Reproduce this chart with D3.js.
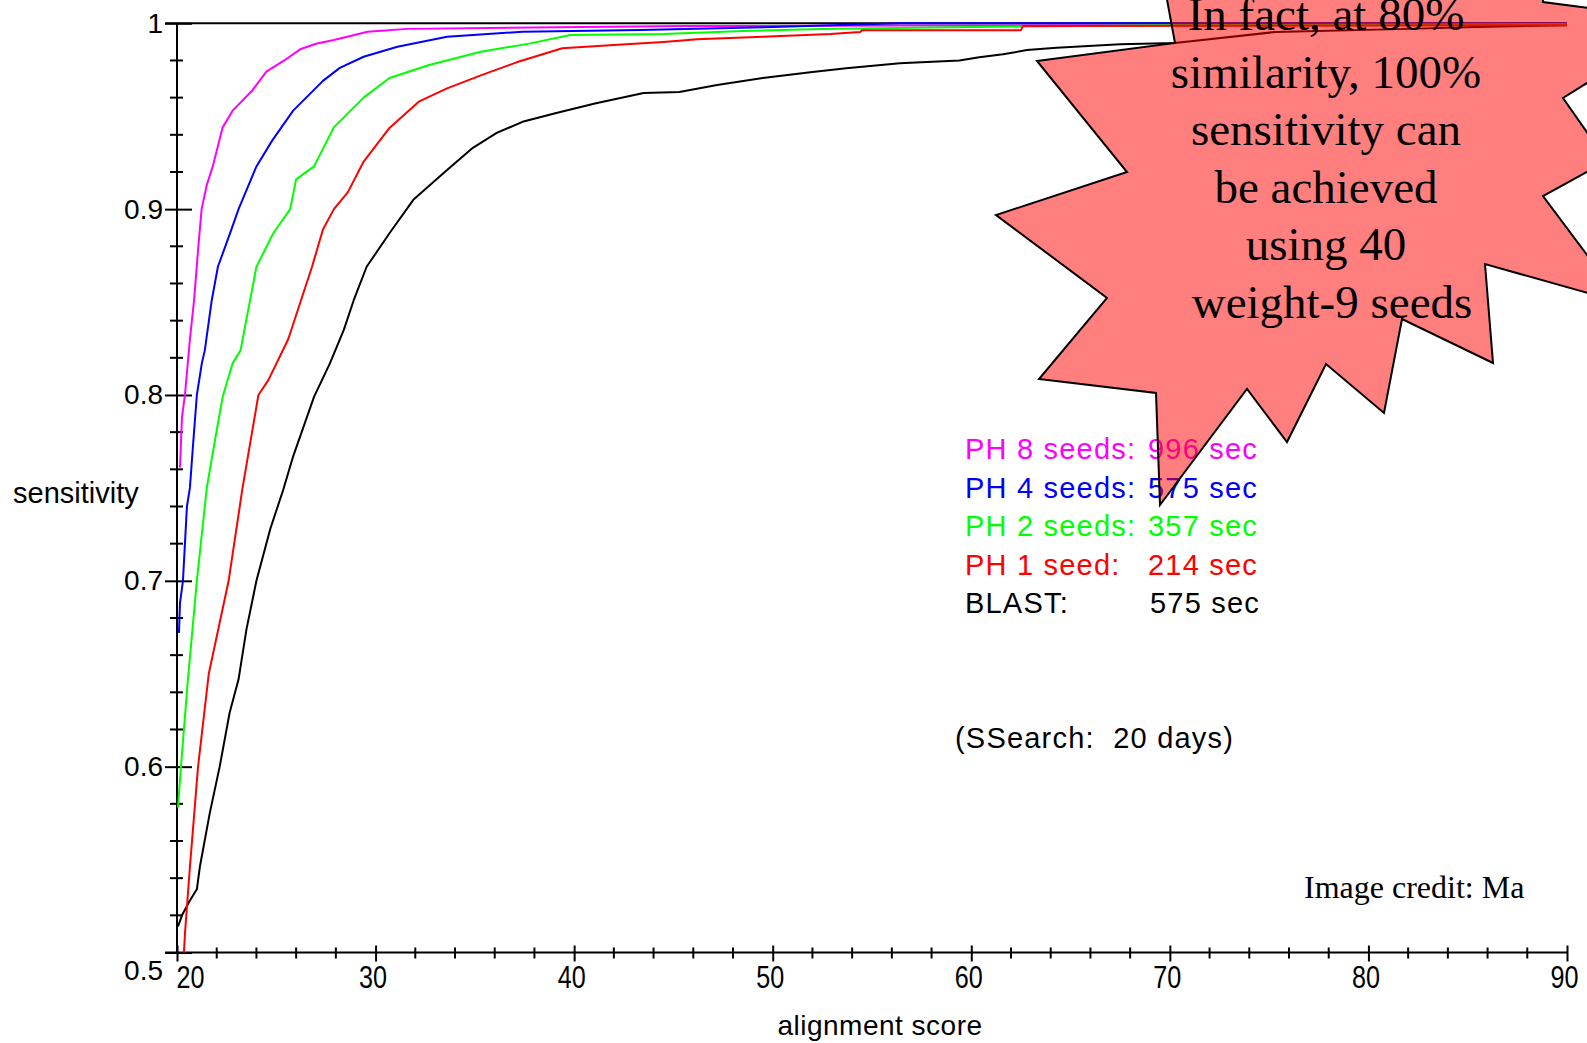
<!DOCTYPE html>
<html>
<head>
<meta charset="utf-8">
<script src="https://cdn.jsdelivr.net/npm/d3@7"></script>
<style>
body { margin: 0; background: #fff; }
svg { display: block; }
text { font-family: "Liberation Sans", Arial, sans-serif; }
.serif { font-family: "Liberation Serif", "Times New Roman", serif; }
</style>
</head>
<body>
<div class="chart"></div>
<script>
// page / plot box
var config = {};
config.svg = { width: 1587, height: 1043 };
config.plot = { left: 177, right: 1567, top: 23.3, bottom: 952.5 };

// axis ticks
var xTicks = [20, 30, 40, 50, 60, 70, 80, 90];
var yTicks = [0.5, 0.6, 0.7, 0.8, 0.9, 1];
var yTickLabels = ["0.5", "0.6", "0.7", "0.8", "0.9", "1"];

// series (alignment score -> sensitivity)
var ph8X = [20.15, 20.25, 20.4, 20.65, 20.86, 21.06, 21.24, 21.5, 21.8, 22.3, 22.8, 23.8, 24.5, 25.4, 26.2, 27.0, 27.9, 29.6, 31.6, 45.5, 56.4, 90];
var ph8Y = [0.761, 0.788, 0.80, 0.830, 0.851, 0.878, 0.90, 0.913, 0.923, 0.944, 0.953, 0.964, 0.974, 0.980, 0.986, 0.989, 0.991, 0.9955, 0.997, 0.9985, 0.9988, 0.9992];

var ph4X = [20.1, 20.15, 20.3, 20.4, 20.5, 20.65, 20.8, 21.0, 21.25, 21.4, 21.75, 22.06, 22.67, 23.1, 24.0, 24.8, 25.85, 27.35, 28.2, 29.4, 31.1, 33.6, 37.4, 43.3, 50, 56.4, 90];
var ph4Y = [0.672, 0.688, 0.70, 0.72, 0.74, 0.75, 0.772, 0.80, 0.817, 0.824, 0.851, 0.869, 0.887, 0.90, 0.923, 0.937, 0.953, 0.969, 0.976, 0.982, 0.9874, 0.9928, 0.9955, 0.9964, 0.998, 1.0, 1.0];

var ph2X = [20.05, 20.2, 20.55, 21.0, 21.5, 22.0, 22.3, 22.8, 23.2, 24.0, 24.85, 25.7, 26.0, 26.9, 27.9, 29.4, 30.7, 32.7, 35.3, 37.8, 39.8, 44.5, 48.5, 52.4, 60, 70, 90];
var ph2Y = [0.578, 0.60, 0.647, 0.70, 0.75, 0.781, 0.799, 0.817, 0.824, 0.869, 0.887, 0.90, 0.916, 0.923, 0.944, 0.96, 0.9706, 0.9776, 0.9847, 0.9892, 0.9937, 0.9942, 0.9959, 0.9969, 0.998, 0.999, 0.9995];

var ph1X = [20.35, 20.4, 20.65, 21.06, 21.6, 22.6, 23.3, 24.1, 24.6, 25.6, 26.8, 27.35, 27.9, 28.6, 29.4, 30.7, 32.2, 33.6, 35.3, 37.1, 39.4, 42.0, 44.5, 46.2, 49.5, 52.9, 54.4, 54.5, 62.5, 62.6, 90];
var ph1Y = [0.50, 0.51, 0.546, 0.60, 0.65, 0.70, 0.75, 0.80, 0.808, 0.83, 0.869, 0.889, 0.90, 0.909, 0.9256, 0.9437, 0.958, 0.965, 0.972, 0.979, 0.9866, 0.9883, 0.990, 0.9914, 0.9928, 0.9942, 0.9953, 0.9963, 0.9963, 0.9985, 0.999];

var blastX = [20.05, 20.25, 20.65, 21.0, 21.15, 21.65, 22.15, 22.65, 23.1, 23.5, 24.0, 24.7, 25.35, 25.85, 26.9, 27.7, 28.4, 28.9, 29.55, 30.7, 31.9, 33.6, 34.9, 36.1, 37.4, 39.1, 41.1, 43.5, 45.3, 47.2, 49.5, 52.0, 53.7, 56.4, 59.4, 60.4, 61.6, 62.8, 64.3, 67.5, 70.25, 75.3, 82, 85.4, 90];
var blastY = [0.514, 0.520, 0.528, 0.534, 0.546, 0.575, 0.60, 0.629, 0.647, 0.674, 0.70, 0.728, 0.749, 0.767, 0.799, 0.817, 0.835, 0.851, 0.869, 0.887, 0.905, 0.921, 0.933, 0.941, 0.947, 0.9517, 0.957, 0.9625, 0.963, 0.9668, 0.9706, 0.9738, 0.9758, 0.9785, 0.980, 0.9817, 0.9833, 0.9856, 0.9869, 0.9887, 0.9894, 0.9953, 0.997, 0.998, 0.999];

// legend
var legendLabels = ["PH 8 seeds:", "PH 4 seeds:", "PH 2 seeds:", "PH 1 seed:", "BLAST:"];
var legendTimes = ["996 sec", "575 sec", "357 sec", "214 sec", "575 sec"];
var legendColors = ["#ff00ff", "#0000ff", "#00ff00", "#ff0000", "#000000"];

// callout
var burstLines = ["In fact, at 80%", "similarity, 100%", "sensitivity can", "be achieved", "using 40", "weight-9 seeds"];
var burstPoints = [[1156, -60], [1175, 43], [1037, 61], [1127, 172], [996, 215], [1107, 298], [1039, 379], [1156, 393],
    [1160, 505], [1247, 389], [1287, 442], [1326, 364], [1384, 413], [1402, 319], [1493, 363], [1485, 264],
    [1623, 303], [1543, 196], [1607, 161], [1563, 98], [1686, 21], [1543, 2], [1540, -60]];

var translate = (x, y) => "translate(" + x + "," + y + ")";

var series = [
    { name: "BLAST", color: "#000000", xs: blastX, ys: blastY },
    { name: "PH 8", color: "#ff00ff", xs: ph8X, ys: ph8Y },
    { name: "PH 4", color: "#0000ff", xs: ph4X, ys: ph4Y },
    { name: "PH 2", color: "#00ff00", xs: ph2X, ys: ph2Y },
    { name: "PH 1", color: "#ff0000", xs: ph1X, ys: ph1Y }
].map(s => ({ name: s.name, color: s.color, values: s.xs.map((x, i) => ({ x: x, s: s.ys[i] })) }));

var xScale = d3.scaleLinear().domain([20, 90]).range([config.plot.left, config.plot.right]);
var yScale = d3.scaleLinear().domain([0.5, 1]).range([config.plot.bottom, config.plot.top]);

var svg = d3.select(".chart")
    .append("svg")
    .attr("width", config.svg.width)
    .attr("height", config.svg.height);

// ---- axes ----
var yAxis = d3.axisLeft(yScale)
    .tickValues(yTicks)
    .tickFormat((d, i) => yTickLabels[i])
    .tickSize(12)
    .tickPadding(2);

var yG = svg.append("g")
    .attr("transform", translate(config.plot.left, 0))
    .call(yAxis)
    .attr("font-family", null)
    .attr("font-size", 28);
yG.select(".domain").remove();
yG.selectAll(".tick line").attr("x1", 15).attr("stroke", "#000").attr("stroke-width", 2);
yG.selectAll(".tick text").attr("fill", "#000")
    .attr("dy", d => d === 0.5 ? "0.95em" : "0.32em");

// minor y ticks every 0.02
var yMinor = d3.range(25, 50).filter(k => k % 5 !== 0).map(k => k / 50);
svg.append("g").selectAll("line")
    .data(yMinor)
    .enter().append("line")
    .attr("x1", config.plot.left - 7)
    .attr("x2", config.plot.left + 6)
    .attr("y1", d => yScale(d))
    .attr("y2", d => yScale(d))
    .attr("stroke", "#000")
    .attr("stroke-width", 2);

var xAxis = d3.axisBottom(xScale)
    .tickValues(xTicks)
    .tickFormat(d => d)
    .tickSize(9)
    .tickPadding(4);

var xG = svg.append("g")
    .attr("transform", translate(0, config.plot.bottom))
    .call(xAxis)
    .attr("font-family", null)
    .attr("font-size", 31);
xG.select(".domain").remove();
xG.selectAll(".tick line").attr("y1", -7).attr("stroke", "#000").attr("stroke-width", 2);
xG.selectAll(".tick text").attr("fill", "#000")
    .attr("textLength", 28)
    .attr("lengthAdjust", "spacingAndGlyphs")
    .attr("dx", d => d === 20 ? 13 : -3);

// minor x ticks every 2
var xMinor = d3.range(20, 91, 2).filter(d => d % 10 !== 0);
svg.append("g").selectAll("line")
    .data(xMinor)
    .enter().append("line")
    .attr("x1", d => xScale(d))
    .attr("x2", d => xScale(d))
    .attr("y1", config.plot.bottom - 5)
    .attr("y2", config.plot.bottom + 6)
    .attr("stroke", "#000")
    .attr("stroke-width", 2);

// axis lines (bottom, left, top at sensitivity 1)
svg.append("line")
    .attr("x1", config.plot.left - 12).attr("x2", xScale(90))
    .attr("y1", yScale(0.5)).attr("y2", yScale(0.5))
    .attr("stroke", "#000").attr("stroke-width", 2);
svg.append("line")
    .attr("x1", xScale(20)).attr("x2", xScale(20))
    .attr("y1", yScale(1)).attr("y2", yScale(0.5))
    .attr("stroke", "#000").attr("stroke-width", 2);
svg.append("line")
    .attr("x1", config.plot.left - 12).attr("x2", xScale(90))
    .attr("y1", yScale(1)).attr("y2", yScale(1))
    .attr("stroke", "#000").attr("stroke-width", 2);

// axis titles
svg.append("text")
    .text("sensitivity")
    .attr("x", 13)
    .attr("y", 503)
    .attr("font-size", 29);

svg.append("text")
    .text("alignment score")
    .attr("x", 880)
    .attr("y", 1035)
    .attr("text-anchor", "middle")
    .attr("font-size", 28)
    .attr("letter-spacing", 0.5);

// ---- curves ----
var line = d3.line()
    .x(d => xScale(d.x))
    .y(d => yScale(d.s));

svg.append("g").selectAll("path")
    .data(series)
    .enter().append("path")
    .attr("d", d => line(d.values))
    .attr("fill", "none")
    .attr("stroke", d => d.color)
    .attr("stroke-width", 2)
    .attr("stroke-linejoin", "round");

// ---- legend ----
var legend = svg.append("g").attr("font-size", 29).attr("letter-spacing", 1.2);
legend.selectAll("text.lab")
    .data(legendLabels)
    .enter().append("text")
    .attr("class", "lab")
    .attr("x", 965)
    .attr("y", (d, i) => 459 + i * 38.5)
    .attr("fill", (d, i) => legendColors[i])
    .text(d => d);
legend.selectAll("text.val")
    .data(legendTimes)
    .enter().append("text")
    .attr("class", "val")
    .attr("x", (d, i) => i === 4 ? 1150 : 1148)
    .attr("y", (d, i) => 459 + i * 38.5)
    .attr("fill", (d, i) => legendColors[i])
    .text(d => d);

svg.append("text")
    .text("(SSearch:  20 days)")
    .attr("x", 955)
    .attr("y", 748)
    .attr("font-size", 29)
    .attr("letter-spacing", 1.2)
    .style("white-space", "pre");

svg.append("text")
    .attr("class", "serif")
    .text("Image credit: Ma")
    .attr("x", 1304)
    .attr("y", 898)
    .attr("font-size", 32);

// ---- callout burst ----
svg.append("polygon")
    .attr("points", burstPoints.map(p => p.join(",")).join(" "))
    .attr("fill", "#ff0000")
    .attr("fill-opacity", 0.5)
    .attr("stroke", "#000")
    .attr("stroke-width", 2)
    .attr("stroke-linejoin", "miter");

svg.append("g").selectAll("text")
    .data(burstLines)
    .enter().append("text")
    .attr("class", "serif")
    .attr("x", (d, i) => i === 5 ? 1332 : 1326)
    .attr("y", (d, i) => 30 + i * 57.6)
    .attr("text-anchor", "middle")
    .attr("font-size", 47)
    .attr("fill", "#000")
    .text(d => d);
</script>
</body>
</html>
